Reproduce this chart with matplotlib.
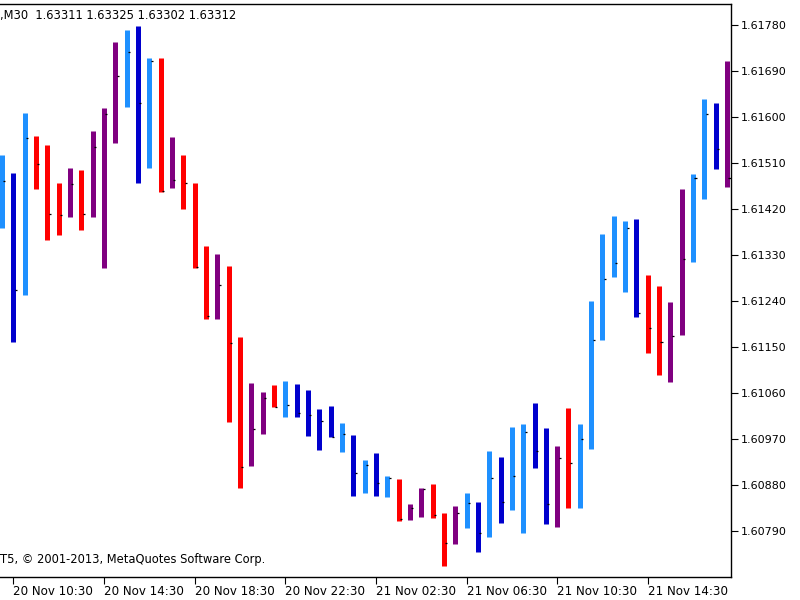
#!/usr/bin/env python3

import matplotlib
matplotlib.use("Agg")
import matplotlib.pyplot as plt

# 30-minute bars, 20 Nov 10:00 .. 21 Nov 18:00
highs = [1.61526, 1.61490, 1.61608, 1.61563, 1.61545, 1.61471, 1.61500, 1.61496,
         1.61573, 1.61618, 1.61747, 1.61770, 1.61778, 1.61715, 1.61715, 1.61561,
         1.61526, 1.61471, 1.61348, 1.61332, 1.61308, 1.61170, 1.61080, 1.61062,
         1.61076, 1.61083, 1.61078, 1.61066, 1.61029, 1.61035, 1.61001, 1.60978,
         1.60929, 1.60943, 1.60898, 1.60892, 1.60843, 1.60874, 1.60882, 1.60825,
         1.60839, 1.60864, 1.60847, 1.60947, 1.60935, 1.60993, 1.60999, 1.61040,
         1.60992, 1.60956, 1.61031, 1.60999, 1.61240, 1.61371, 1.61406, 1.61397,
         1.61400, 1.61291, 1.61269, 1.61238, 1.61459, 1.61488, 1.61635, 1.61627,
         1.61710]
lows = [1.61383, 1.61160, 1.61252, 1.61459, 1.61359, 1.61369, 1.61404, 1.61379,
        1.61404, 1.61305, 1.61549, 1.61620, 1.61471, 1.61500, 1.61453, 1.61461,
        1.61420, 1.61305, 1.61205, 1.61205, 1.61004, 1.60874, 1.60917, 1.60980,
        1.61033, 1.61013, 1.61013, 1.60976, 1.60948, 1.60974, 1.60945, 1.60858,
        1.60864, 1.60858, 1.60857, 1.60810, 1.60812, 1.60817, 1.60815, 1.60722,
        1.60765, 1.60796, 1.60749, 1.60778, 1.60806, 1.60831, 1.60786, 1.60913,
        1.60804, 1.60798, 1.60835, 1.60835, 1.60950, 1.61164, 1.61287, 1.61258,
        1.61209, 1.61138, 1.61095, 1.61082, 1.61173, 1.61316, 1.61440, 1.61498,
        1.61463]
closes = [1.61475, 1.61262, 1.61559, 1.61508, 1.61410, 1.61408, 1.61469, 1.61410,
          1.61541, 1.61606, 1.61680, 1.61727, 1.61627, 1.61710, 1.61455, 1.61477,
          1.61471, 1.61307, 1.61211, 1.61271, 1.61158, 1.60915, 1.60990, 1.61050,
          1.61033, 1.61037, 1.61021, 1.61017, 1.61005, 1.60974, 1.60980, 1.60903,
          1.60919, 1.60884, 1.60894, 1.60813, 1.60835, 1.60872, 1.60821, 1.60767,
          1.60825, 1.60845, 1.60786, 1.60894, 1.60847, 1.60898, 1.60984, 1.60947,
          1.60843, 1.60933, 1.60923, 1.60970, 1.61164, 1.61283, 1.61314, 1.61383,
          1.61217, 1.61187, 1.61160, 1.61172, 1.61322, 1.61481, 1.61606, 1.61537,
          1.61480]
# colour index of every bar: 0 light blue, 1 blue, 2 red, 3 purple
bar_color_idx = [0, 1, 0, 2, 2, 2, 3, 2, 3, 3, 3, 0, 1, 0, 2, 3,
                 2, 2, 2, 3, 2, 2, 3, 3, 2, 0, 1, 1, 1, 1, 0, 1,
                 0, 1, 0, 2, 3, 3, 2, 2, 3, 0, 1, 0, 1, 0, 0, 1,
                 1, 3, 2, 0, 0, 0, 0, 0, 1, 2, 2, 3, 3, 0, 0, 1,
                 3]
palette = ['#1E90FF', '#0000CD', '#FF0000', '#800080']

tick_bars = [1, 9, 17, 25, 33, 41, 49, 57]
tick_labels = ['20 Nov 10:30', '20 Nov 14:30', '20 Nov 18:30', '20 Nov 22:30',
               '21 Nov 02:30', '21 Nov 06:30', '21 Nov 10:30', '21 Nov 14:30']
price_ticks = [1.60790, 1.60880, 1.60970, 1.61060, 1.61150, 1.61240,
               1.61330, 1.61420, 1.61510, 1.61600, 1.61690, 1.61780]


def main():
    plt.rcParams['font.family'] = 'DejaVu Sans'
    fig = plt.figure(figsize=(8, 6), dpi=100)
    ax = fig.add_axes([0.0, 0.0383, 0.9137, 0.955])

    xs = list(range(len(highs)))
    cols = [palette[c] for c in bar_color_idx]
    ax.vlines(xs, lows, highs, colors=cols, linewidth=3.6, capstyle='butt')
    ax.hlines(closes, [x + 0.12 for x in xs], [x + 0.3 for x in xs],
              colors='black', linewidth=0.9)

    ax.set_xlim(-0.18, 64.34)
    ax.set_ylim(1.60700, 1.61821)

    ax.set_xticks(tick_bars)
    ax.set_xticklabels(tick_labels, ha='left', fontsize=8.6)
    ax.set_yticks(price_ticks)
    ax.set_yticklabels(['%.5f' % p for p in price_ticks], fontsize=8)
    ax.yaxis.tick_right()
    ax.tick_params(axis='x', direction='out', length=5, pad=1, color='black')
    ax.tick_params(axis='y', direction='out', length=5, pad=2, color='black')

    ax.spines['left'].set_visible(False)
    for s in ['top', 'right', 'bottom']:
        ax.spines[s].set_color('black')
        ax.spines[s].set_linewidth(1.0)

    fig.text(0.0, 1 - 15 / 600, ',M30  1.63311 1.63325 1.63302 1.63312',
             fontsize=8.3, va='center', ha='left')
    fig.text(0.0, 1 - 560 / 600, 'T5, \u00a9 2001-2013, MetaQuotes Software Corp.',
             fontsize=8.3, va='center', ha='left')

    plt.savefig('out.png', dpi=100)


main()
